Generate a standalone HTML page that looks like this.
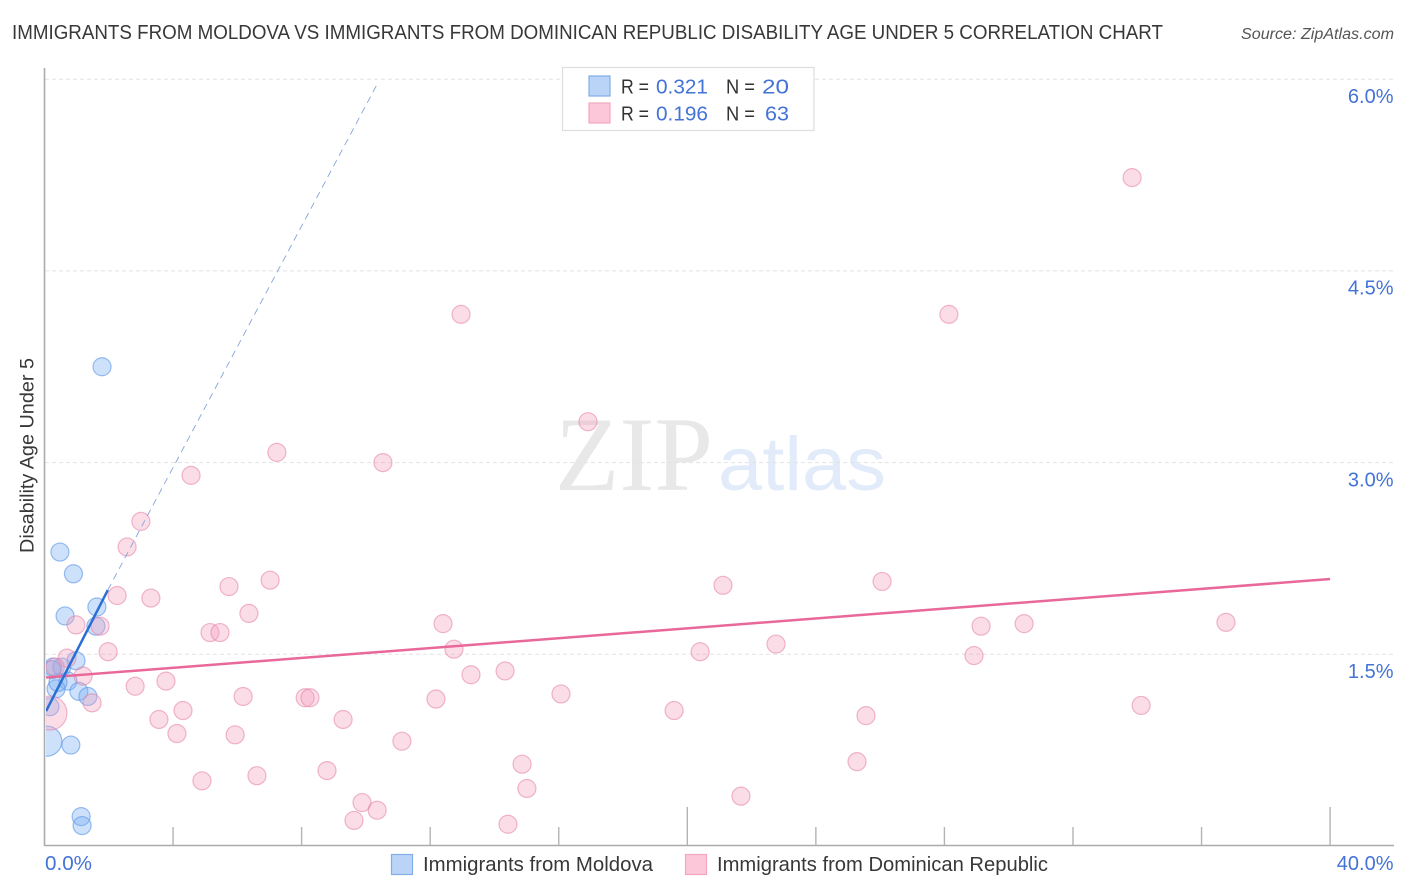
<!DOCTYPE html>
<html lang="en">
<head>
<meta charset="utf-8">
<title>Immigrants from Moldova vs Immigrants from Dominican Republic Disability Age Under 5 Correlation Chart</title>
<style>
html,body{margin:0;padding:0;background:#fff;width:1406px;height:892px;overflow:hidden}
svg{display:block;font-family:"Liberation Sans",sans-serif}
</style>
</head>
<body>
<svg id="chart" xmlns="http://www.w3.org/2000/svg" width="1406" height="892" viewBox="0 0 1406 892">
  <defs>
    <clipPath id="plot-clip"><rect x="46" y="60" width="1348" height="785"/></clipPath>
  </defs>
  <rect x="0" y="0" width="1406" height="892" fill="#ffffff"/>
  <text x="12" y="39" font-size="20" fill="#383838" textLength="1151" lengthAdjust="spacingAndGlyphs">IMMIGRANTS FROM MOLDOVA VS IMMIGRANTS FROM DOMINICAN REPUBLIC DISABILITY AGE UNDER 5 CORRELATION CHART</text>
  <text x="1241" y="39" font-size="15.5" font-style="italic" fill="#555555" textLength="153" lengthAdjust="spacingAndGlyphs">Source: ZipAtlas.com</text>

  <g>
    <text x="555" y="490" font-family="'Liberation Serif',serif" font-size="106" fill="#e8e8e8" textLength="158" lengthAdjust="spacingAndGlyphs">ZIP</text>
    <text x="718" y="490" font-size="76" fill="#e2ebf9" textLength="168" lengthAdjust="spacingAndGlyphs">atlas</text>
  </g>

  <g id="grid"></g>
  <g id="points" clip-path="url(#plot-clip)"></g>
  <g id="lines" clip-path="url(#plot-clip)"></g>

  <line x1="44.5" y1="68" x2="44.5" y2="846" stroke="#ababab" stroke-width="1.6"/>
  <line x1="44" y1="845.5" x2="1394" y2="845.5" stroke="#ababab" stroke-width="1.6"/>
  <g id="xticks"></g>
  <g id="yticklabels"></g>
  <text id="x-min" x="45" y="870" font-size="20" fill="#4373d6" textLength="47" lengthAdjust="spacingAndGlyphs"></text>
  <text id="x-max" x="1393.5" y="870" font-size="20" fill="#4373d6" text-anchor="end"></text>

  <text transform="translate(33.5,553) rotate(-90)" font-size="19" fill="#383838" textLength="195" lengthAdjust="spacingAndGlyphs">Disability Age Under 5</text>

  <g>
    <rect x="562.5" y="67.5" width="251.5" height="63" fill="#ffffff" stroke="#dddddd" stroke-width="1.2"/>
    <rect x="589" y="76" width="21" height="20" fill="#b9d4f7" stroke="#82ade8" stroke-width="1.2"/>
    <rect x="589" y="103" width="21" height="20" fill="#fcc8d9" stroke="#f2a6c0" stroke-width="1.2"/>
    <text x="621" y="93.5" font-size="20" fill="#333333" textLength="28" lengthAdjust="spacingAndGlyphs">R =</text>
    <text x="656" y="93.5" font-size="20" fill="#4373d6" textLength="52" lengthAdjust="spacingAndGlyphs">0.321</text>
    <text x="726" y="93.5" font-size="20" fill="#333333" textLength="29" lengthAdjust="spacingAndGlyphs">N =</text>
    <text x="762" y="93.5" font-size="20" fill="#4373d6" textLength="27" lengthAdjust="spacingAndGlyphs">20</text>
    <text x="621" y="120.5" font-size="20" fill="#333333" textLength="28" lengthAdjust="spacingAndGlyphs">R =</text>
    <text x="656" y="120.5" font-size="20" fill="#4373d6" textLength="52" lengthAdjust="spacingAndGlyphs">0.196</text>
    <text x="726" y="120.5" font-size="20" fill="#333333" textLength="29" lengthAdjust="spacingAndGlyphs">N =</text>
    <text x="765" y="120.5" font-size="20" fill="#4373d6" textLength="24" lengthAdjust="spacingAndGlyphs">63</text>
  </g>

  <g>
    <rect x="391.5" y="854.5" width="21" height="20" fill="#b9d4f7" stroke="#82ade8" stroke-width="1.2"/>
    <text x="423" y="871" font-size="20" fill="#383838" textLength="230" lengthAdjust="spacingAndGlyphs">Immigrants from Moldova</text>
    <rect x="685.5" y="854.5" width="21" height="20" fill="#fcc8d9" stroke="#f2a6c0" stroke-width="1.2"/>
    <text x="717" y="871" font-size="20" fill="#383838" textLength="331" lengthAdjust="spacingAndGlyphs">Immigrants from Dominican Republic</text>
  </g>
</svg>
<script>
// Chart data (percent units)
const moldovaX = [1.79,0.48,0.90,0.64,1.63,1.60,0.98,0.26,0.54,0.73,0.36,1.07,1.35,0.17,0.07,0.82,1.14,1.17,0.42,0.23];
const moldovaY = [3.75,2.30,2.13,1.80,1.87,1.72,1.45,1.40,1.40,1.29,1.23,1.21,1.17,1.09,0.82,0.79,0.23,0.16,1.28,1.38];
const moldovaWeight = [1,1,1,1,1,1,1,1,1,1,1,1,1,1,2.8,1,1,1,1,1];

const dominicanX = [33.84,12.96,28.14,16.91,7.23,10.53,4.56,3.00,2.57,7.02,5.74,21.11,26.06,2.26,3.31,6.36,12.40,0.98,1.73,30.48,36.76,29.14,5.15,5.46,1.98,12.74,22.76,20.40,28.92,0.70,14.33,13.27,1.20,0.33,2.82,3.78,16.07,12.18,6.18,8.11,8.26,1.48,19.59,4.31,3.56,9.29,25.56,34.12,4.12,5.93,11.12,0.17,14.86,25.28,8.79,6.61,4.90,15.01,21.67,9.88,10.35,9.63,14.42];
const dominicanY = [5.23,4.16,4.16,3.32,3.08,3.00,2.90,2.54,2.34,2.08,2.03,2.04,2.07,1.96,1.94,1.82,1.74,1.73,1.72,1.74,1.75,1.72,1.67,1.67,1.52,1.54,1.58,1.52,1.49,1.47,1.37,1.34,1.33,1.40,1.25,1.29,1.19,1.15,1.17,1.16,1.16,1.12,1.06,1.06,0.99,0.99,1.02,1.10,0.88,0.87,0.82,1.04,0.64,0.66,0.59,0.55,0.51,0.45,0.39,0.34,0.28,0.20,0.17];
const dominicanLargeIndex = 51;
const dominicanLargeWeight = 3.57;

const yTickValues = [6.0,4.5,3.0,1.5];
const yTickLabels = ['6.0%','4.5%','3.0%','1.5%'];
const xTickValues = [4,8,12,16,20,24,28,32,36,40];
const xMajorTicks = [20,40];
const xRangeLabels = ['0.0%','40.0%'];

const dominicanTrendX = [0.05,40];
const dominicanTrendY = [1.318,2.089];
const moldovaTrendX = [0.05,1.97];
const moldovaTrendY = [1.056,2.003];
const moldovaProjectionX = [1.97,10.38];
const moldovaProjectionY = [2.003,5.975];

// Axis functions
const SVG_NS = 'http://www.w3.org/2000/svg';
function xScale(v){ return 44.5 + v * 32.14; }
function yScale(v){ return 846 - v * 127.8; }
function radius(w){ return 9 * Math.sqrt(w); }
function make(tag, attrs){
  const el = document.createElementNS(SVG_NS, tag);
  for (const k in attrs) el.setAttribute(k, attrs[k]);
  return el;
}

const grid = document.getElementById('grid');
yTickValues.forEach(function(v){
  const g = make('line', {x1:45, x2:1394, y1:yScale(v), y2:yScale(v), stroke:'#e2e2e2', 'stroke-width':1, 'stroke-dasharray':'4 3'});
  
  
  grid.appendChild(g);
});

const points = document.getElementById('points');
moldovaX.forEach(function(x, i){
  const c = make('circle', {cx:xScale(x), cy:yScale(moldovaY[i]), r:radius(moldovaWeight[i]), fill:'rgba(120,172,240,0.36)', stroke:'rgba(92,150,232,0.62)', 'stroke-width':1.2});
  
  
  points.appendChild(c);
});
dominicanX.forEach(function(x, i){
  const w = i === dominicanLargeIndex ? dominicanLargeWeight : 1;
  const c = make('circle', {cx:xScale(x), cy:yScale(dominicanY[i]), r:radius(w), fill:'rgba(245,160,190,0.36)', stroke:'rgba(228,125,162,0.55)', 'stroke-width':1.2});
  
  
  points.appendChild(c);
});

const lines = document.getElementById('lines');
const projection = make('line', {x1:xScale(moldovaProjectionX[0]), y1:yScale(moldovaProjectionY[0]), x2:xScale(moldovaProjectionX[1]), y2:yScale(moldovaProjectionY[1]), stroke:'#85a3dc', 'stroke-width':0.9, 'stroke-dasharray':'7 5'});


lines.appendChild(projection);
const domTrend = make('line', {x1:xScale(dominicanTrendX[0]), y1:yScale(dominicanTrendY[0]), x2:xScale(dominicanTrendX[1]), y2:yScale(dominicanTrendY[1]), stroke:'#e9689a', 'stroke-width':2.5});


lines.appendChild(domTrend);
const molTrend = make('line', {x1:xScale(moldovaTrendX[0]), y1:yScale(moldovaTrendY[0]), x2:xScale(moldovaTrendX[1]), y2:yScale(moldovaTrendY[1]), stroke:'#2b6fd4', 'stroke-width':2.5});


lines.appendChild(molTrend);

const xticks = document.getElementById('xticks');
xTickValues.forEach(function(v){
  const major = xMajorTicks.indexOf(v) !== -1;
  const t = make('line', {x1:xScale(v), x2:xScale(v), y1:major ? 807 : 827, y2:845, stroke:'#b4b4b4', 'stroke-width':1.4});
  
  
  xticks.appendChild(t);
});

const yLabels = document.getElementById('yticklabels');
yTickValues.forEach(function(v, i){
  const t = make('text', {x:1393.5, y:yScale(v) + 23.7, 'font-size':20, fill:'#4373d6', 'text-anchor':'end'});
  
  
  t.textContent = yTickLabels[i];
  yLabels.appendChild(t);
});

document.getElementById('x-min').textContent = xRangeLabels[0];
document.getElementById('x-max').textContent = xRangeLabels[1];
</script>
</body>
</html>
